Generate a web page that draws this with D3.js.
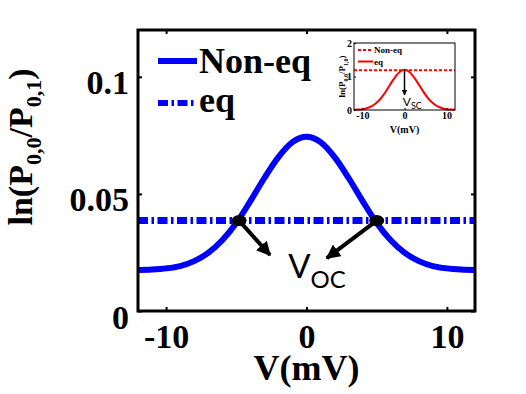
<!DOCTYPE html>
<html>
<head>
<meta charset="utf-8">
<script src="https://cdn.jsdelivr.net/npm/d3@7"></script>
<style>
  body { margin: 0; background: #fff; }
  svg { display: block; }
  text { font-family: 'Liberation Serif', 'Times New Roman', serif; font-weight: bold; fill: #000; }
  .sans { font-family: 'Lato', 'Open Sans', sans-serif; font-weight: normal; }
</style>
</head>
<body>
<svg width="526" height="394"></svg>
<script>
// main panel data
const voltage = [-12,-11,-10,-9,-8,-7,-6,-5,-4,-3,-2,-1,0,1,2,3,4,5,6,7,8,9,10,11,12];
const nonEq = [0.0175,0.0177,0.0182,0.0192,0.0213,0.0248,0.0302,0.0376,0.0469,0.0568,0.0657,0.0721,0.0744,
               0.0721,0.0657,0.0568,0.0469,0.0376,0.0302,0.0248,0.0213,0.0192,0.0182,0.0177,0.0175];
const eqValue = 0.0386;
const crossV = [-4.8, 5.0];
const arrowTips = [[-2.6, 0.0239], [1.45, 0.0226]];
const xTicks = [-10, 0, 10];
const yTicks = [0, 0.05, 0.1];
const yTickLabels = ['0', '0.05', '0.1'];

// inset data
const insetVoltage = [-12,-11,-10,-9,-8,-7,-6,-5,-4,-3,-2,-1,0,1,2,3,4,5,6,7,8,9,10,11,12];
const insetEq = [0.005,0.012,0.025,0.05,0.10,0.18,0.29,0.45,0.64,0.84,1.02,1.15,1.2,
                 1.15,1.02,0.84,0.64,0.45,0.29,0.18,0.10,0.05,0.025,0.012,0.005];
const insetNonEq = 1.19;
const insetXTicks = [-10, 0, 10];
const insetYTicks = [0, 1, 2];

const svg = d3.select('svg');
const margin = { top: 30, left: 138 };
const innerWidth = 337;
const innerHeight = 281;

const g = svg.append('g').attr('transform', `translate(${margin.left},${margin.top})`);

const x = d3.scaleLinear().domain([-12, 12]).range([0, innerWidth]);
const y = d3.scaleLinear().domain([0, 0.12]).range([innerHeight, 0]);

// arrow markers
const defs = svg.append('defs');
defs.append('marker')
  .attr('id', 'arrow')
  .attr('viewBox', '0 0 10 10')
  .attr('refX', 9).attr('refY', 5)
  .attr('markerWidth', 3.6).attr('markerHeight', 3.6)
  .attr('markerUnits', 'strokeWidth')
  .attr('orient', 'auto')
  .append('path').attr('d', 'M0,0 L10,5 L0,10 Z').attr('fill', '#000');
defs.append('marker')
  .attr('id', 'arrowSmall')
  .attr('viewBox', '0 0 10 10')
  .attr('refX', 9).attr('refY', 5)
  .attr('markerWidth', 4).attr('markerHeight', 4)
  .attr('markerUnits', 'strokeWidth')
  .attr('orient', 'auto')
  .append('path').attr('d', 'M0,0 L10,5 L0,10 Z').attr('fill', '#000');

// eq line (dash-dot)
g.append('line')
  .attr('x1', x(-12)).attr('x2', x(12))
  .attr('y1', y(eqValue)).attr('y2', y(eqValue))
  .attr('stroke', '#0000ff').attr('stroke-width', 7)
  .attr('stroke-dasharray', '10,3.5,2.5,3.5');

// non-eq curve
const line = d3.line()
  .x((d, i) => x(voltage[i]))
  .y(d => y(d))
  .curve(d3.curveMonotoneX);

g.append('path')
  .datum(nonEq)
  .attr('d', line)
  .attr('fill', 'none')
  .attr('stroke', '#0000ff')
  .attr('stroke-width', 6);

// crossing dots and arrows
crossV.forEach((v, i) => {
  g.append('line')
    .attr('x1', x(v)).attr('y1', y(eqValue))
    .attr('x2', x(arrowTips[i][0])).attr('y2', y(arrowTips[i][1]))
    .attr('stroke', '#000').attr('stroke-width', 4)
    .attr('marker-end', 'url(#arrow)');
  g.append('ellipse')
    .attr('cx', x(v)).attr('cy', y(eqValue))
    .attr('rx', 7.5).attr('ry', 5.5)
    .attr('fill', '#000');
});

const voc = g.append('text').attr('class', 'sans')
  .attr('x', x(-1.3)).attr('y', y(0.0142))
  .style('font-size', '33px');
voc.append('tspan').text('V');
voc.append('tspan').attr('dy', 10).style('font-size', '24px').text('OC');

// axes
const plain = d => String(d);
const xAxis = d3.axisBottom(x).tickValues(xTicks).tickSize(-4).tickPadding(10).tickFormat(plain);
const xAxisG = g.append('g').attr('transform', `translate(0,${innerHeight})`).call(xAxis);
xAxisG.selectAll('text').style('font-size', '34px').attr('dy', '0.8em');
g.append('g').call(d3.axisTop(x).tickValues(xTicks).tickSize(-4).tickFormat(''));

const yAxis = d3.axisLeft(y).tickValues(yTicks).tickSize(-4).tickPadding(9)
  .tickFormat((d, i) => yTickLabels[i]);
const yAxisG = g.append('g').call(yAxis);
yAxisG.selectAll('text').style('font-size', '34px').attr('dy', '0.5em');
g.append('g').attr('transform', `translate(${innerWidth},0)`)
  .call(d3.axisRight(y).tickValues(yTicks).tickSize(-4).tickFormat(''));

g.selectAll('.domain').remove();
g.selectAll('.tick line').attr('stroke', '#000').attr('stroke-width', 2);
g.selectAll('.tick text').attr('fill', '#000').style('font-family', "'Liberation Serif', serif");

g.append('rect')
  .attr('width', innerWidth).attr('height', innerHeight)
  .attr('fill', 'none').attr('stroke', '#000').attr('stroke-width', 3);

// axis labels
g.append('text')
  .attr('x', innerWidth / 2).attr('y', 350)
  .attr('text-anchor', 'middle')
  .style('font-size', '36px')
  .text('V(mV)');

const yLab = svg.append('text')
  .attr('transform', 'translate(32,147) rotate(-90)')
  .attr('text-anchor', 'middle')
  .style('font-size', '34px');
yLab.append('tspan').text('ln(P');
yLab.append('tspan').attr('dy', 9).style('font-size', '22px').text('0,0');
yLab.append('tspan').attr('dy', -9).text('/P');
yLab.append('tspan').attr('dy', 9).style('font-size', '22px').text('0,1');
yLab.append('tspan').attr('dy', -9).text(')');

// legend
const legend = g.append('g');
legend.append('line')
  .attr('x1', 20).attr('x2', 59).attr('y1', 31).attr('y2', 31)
  .attr('stroke', '#0000ff').attr('stroke-width', 6);
legend.append('text').attr('x', 61).attr('y', 43).style('font-size', '36px').text('Non-eq');
legend.append('line')
  .attr('x1', 20).attr('x2', 59).attr('y1', 73).attr('y2', 73)
  .attr('stroke', '#0000ff').attr('stroke-width', 6)
  .attr('stroke-dasharray', '10,3.5,2.5,3.5');
legend.append('text').attr('x', 61).attr('y', 82).style('font-size', '36px').text('eq');

// inset
const inset = svg.append('g').attr('transform', 'translate(354,43)');
const iw = 101, ih = 67;
const ix = d3.scaleLinear().domain([-12, 12]).range([0, iw]);
const iy = d3.scaleLinear().domain([0, 2]).range([ih, 0]);

inset.append('rect').attr('width', iw).attr('height', ih).attr('fill', '#fff');

inset.append('line')
  .attr('x1', ix(-12)).attr('x2', ix(12))
  .attr('y1', iy(insetNonEq)).attr('y2', iy(insetNonEq))
  .attr('stroke', '#ff0000').attr('stroke-width', 2)
  .attr('stroke-dasharray', '3,2');

const iline = d3.line()
  .x((d, i) => ix(insetVoltage[i]))
  .y(d => iy(d))
  .curve(d3.curveMonotoneX);
inset.append('path').datum(insetEq).attr('d', iline)
  .attr('fill', 'none').attr('stroke', '#ff0000').attr('stroke-width', 2);

inset.append('line')
  .attr('x1', ix(0)).attr('y1', iy(1.2))
  .attr('x2', ix(0)).attr('y2', iy(0.45))
  .attr('stroke', '#000').attr('stroke-width', 1.5)
  .attr('marker-end', 'url(#arrowSmall)');
const vsc = inset.append('text').attr('class', 'sans')
  .attr('x', ix(-0.4)).attr('y', iy(0.12))
  .style('font-size', '12px');
vsc.append('tspan').text('V');
vsc.append('tspan').attr('dy', 3).style('font-size', '9px').text('SC');

inset.append('g').attr('transform', `translate(0,${ih})`)
  .call(d3.axisBottom(ix).tickValues(insetXTicks).tickSize(-2).tickPadding(2).tickFormat(plain));
inset.append('g')
  .call(d3.axisLeft(iy).tickValues(insetYTicks).tickSize(-2).tickPadding(2).tickFormat(plain));
inset.selectAll('.domain').remove();
inset.selectAll('.tick line').attr('stroke', '#000');
inset.selectAll('.tick text').attr('fill', '#000')
  .style('font-size', '10px').style('font-family', "'Liberation Serif', serif");

inset.append('rect').attr('width', iw).attr('height', ih)
  .attr('fill', 'none').attr('stroke', '#000').attr('stroke-width', 1);

inset.append('text').attr('x', iw / 2).attr('y', ih + 23)
  .attr('text-anchor', 'middle').style('font-size', '10px').text('V(mV)');

const iyLab = inset.append('text')
  .attr('transform', `translate(-9,${ih / 2}) rotate(-90)`)
  .attr('text-anchor', 'middle')
  .style('font-size', '9px');
iyLab.append('tspan').text('ln(P');
iyLab.append('tspan').attr('dy', 2.5).style('font-size', '6px').text('0,0');
iyLab.append('tspan').attr('dy', -2.5).text('/P');
iyLab.append('tspan').attr('dy', 2.5).style('font-size', '6px').text('1,0');
iyLab.append('tspan').attr('dy', -2.5).text(')');

const ileg = inset.append('g');
ileg.append('line').attr('x1', 4).attr('x2', 19).attr('y1', 7).attr('y2', 7)
  .attr('stroke', '#ff0000').attr('stroke-width', 2).attr('stroke-dasharray', '3,2');
ileg.append('text').attr('x', 20).attr('y', 10).style('font-size', '9px').text('Non-eq');
ileg.append('line').attr('x1', 4).attr('x2', 19).attr('y1', 18.5).attr('y2', 18.5)
  .attr('stroke', '#ff0000').attr('stroke-width', 2);
ileg.append('text').attr('x', 20).attr('y', 21.5).style('font-size', '9px').text('eq');
</script>
</body>
</html>
